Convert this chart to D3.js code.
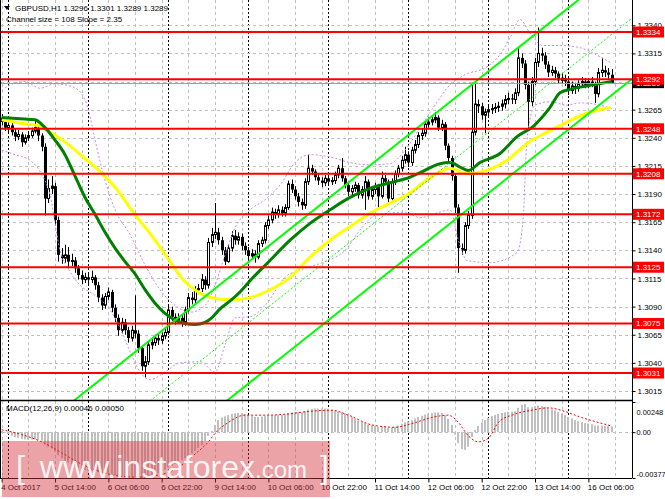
<!DOCTYPE html>
<html><head><meta charset="utf-8">
<script src="https://cdn.jsdelivr.net/npm/d3@7/dist/d3.min.js"></script>
<style>
body{margin:0;background:#fff;}
svg{display:block;font-family:"Liberation Sans",Arial,sans-serif;}
</style></head><body>
<svg id="c" width="665" height="499"></svg>
<script>
// ---------------- DATA ----------------
const symbol = "GBPUSD,H1";
const headerQuote = ["1.3296", "1.3301", "1.3289", "1.3289"];
const channelText = "Channel size = 108 Slope = 2.35";
const macdText = "MACD(12,26,9) 0.00046 0.00050";

const openP = [1.3258,1.3254,1.3249,1.3251,1.3245,1.3241,1.3243,1.3236,1.3240,1.3242,
 1.3246,1.3249,1.3242,1.3232,1.3186,1.3195,1.3197,1.3167,1.3136,1.3133,
 1.3136,1.3130,1.3131,1.3124,1.3118,1.3114,1.3116,1.3114,1.3116,1.3109,
 1.3098,1.3091,1.3099,1.3103,1.3089,1.3080,1.3069,1.3076,1.3069,1.3062,
 1.3069,1.3066,1.3053,1.3037,1.3041,1.3056,1.3058,1.3062,1.3060,1.3064,
 1.3067,1.3087,1.3081,1.3078,1.3080,1.3076,1.3087,1.3098,1.3096,1.3105,
 1.3106,1.3114,1.3109,1.3147,1.3154,1.3156,1.3149,1.3140,1.3130,1.3142,
 1.3153,1.3149,1.3152,1.3144,1.3140,1.3135,1.3137,1.3134,1.3146,1.3149,
 1.3162,1.3167,1.3174,1.3172,1.3176,1.3173,1.3178,1.3199,1.3194,1.3188,
 1.3183,1.3180,1.3201,1.3213,1.3210,1.3205,1.3202,1.3200,1.3204,1.3201,
 1.3202,1.3207,1.3213,1.3204,1.3198,1.3192,1.3195,1.3198,1.3189,1.3194,
 1.3201,1.3188,1.3194,1.3197,1.3188,1.3204,1.3201,1.3186,1.3201,1.3208,
 1.3213,1.3220,1.3225,1.3218,1.3229,1.3234,1.3242,1.3244,1.3252,1.3254,
 1.3256,1.3258,1.3249,1.3252,1.3233,1.3222,1.3206,1.3178,1.3142,1.3140,
 1.3162,1.3171,1.3245,1.3270,1.3268,1.3260,1.3263,1.3265,1.3266,1.3267,
 1.3268,1.3270,1.3274,1.3275,1.3274,1.3280,1.3311,1.3306,1.3287,1.3272,
 1.3290,1.3307,1.3315,1.3313,1.3305,1.3298,1.3300,1.3297,1.3291,1.3293,
 1.3290,1.3282,1.3286,1.3284,1.3288,1.3290,1.3287,1.3290,1.3288,1.3279,
 1.3298,1.3300,1.3298,1.3296];
const highP = [1.3261,1.3257,1.3255,1.3254,1.3248,1.3247,1.3245,1.3243,1.3246,1.3249,
 1.3256,1.3251,1.3244,1.3235,1.3203,1.3206,1.3200,1.3170,1.3142,1.3145,
 1.3143,1.3137,1.3134,1.3127,1.3122,1.3120,1.3119,1.3122,1.3118,1.3112,
 1.3101,1.3102,1.3107,1.3105,1.3092,1.3083,1.3080,1.3079,1.3072,1.3073,
 1.3100,1.3069,1.3055,1.3046,1.3059,1.3062,1.3065,1.3066,1.3067,1.3071,
 1.3092,1.3090,1.3084,1.3084,1.3083,1.3090,1.3102,1.3103,1.3108,1.3110,
 1.3119,1.3117,1.3151,1.3160,1.3182,1.3160,1.3152,1.3143,1.3145,1.3157,
 1.3158,1.3156,1.3155,1.3147,1.3143,1.3141,1.3140,1.3149,1.3152,1.3165,
 1.3171,1.3178,1.3177,1.3180,1.3179,1.3181,1.3202,1.3203,1.3197,1.3191,
 1.3186,1.3204,1.3225,1.3216,1.3212,1.3208,1.3205,1.3207,1.3207,1.3205,
 1.3210,1.3216,1.3222,1.3206,1.3200,1.3198,1.3201,1.3200,1.3197,1.3206,
 1.3203,1.3197,1.3200,1.3199,1.3210,1.3207,1.3203,1.3204,1.3211,1.3216,
 1.3224,1.3232,1.3228,1.3232,1.3238,1.3245,1.3248,1.3255,1.3258,1.3259,
 1.3263,1.3260,1.3256,1.3254,1.3235,1.3224,1.3208,1.3181,1.3146,1.3165,
 1.3175,1.3289,1.3289,1.3274,1.3271,1.3266,1.3269,1.3270,1.3271,1.3272,
 1.3274,1.3278,1.3280,1.3279,1.3284,1.3320,1.3315,1.3309,1.3290,1.3294,
 1.3311,1.3338,1.3320,1.3316,1.3308,1.3304,1.3303,1.3299,1.3297,1.3296,
 1.3293,1.3290,1.3289,1.3291,1.3294,1.3293,1.3293,1.3294,1.3290,1.3302,
 1.3311,1.3304,1.3302,1.3301];
const lowP = [1.3251,1.3246,1.3244,1.3242,1.3237,1.3238,1.3232,1.3234,1.3237,1.3240,
 1.3244,1.3237,1.3228,1.3171,1.3182,1.3190,1.3162,1.3130,1.3128,1.3129,
 1.3124,1.3126,1.3120,1.3114,1.3110,1.3111,1.3110,1.3111,1.3105,1.3094,
 1.3087,1.3088,1.3096,1.3085,1.3076,1.3064,1.3066,1.3065,1.3058,1.3059,
 1.3062,1.3049,1.3033,1.3027,1.3038,1.3052,1.3055,1.3056,1.3057,1.3061,
 1.3065,1.3077,1.3074,1.3075,1.3072,1.3073,1.3084,1.3092,1.3093,1.3101,
 1.3103,1.3105,1.3106,1.3143,1.3150,1.3145,1.3136,1.3127,1.3129,1.3139,
 1.3145,1.3145,1.3140,1.3136,1.3131,1.3132,1.3129,1.3132,1.3143,1.3146,
 1.3159,1.3164,1.3168,1.3169,1.3170,1.3170,1.3176,1.3191,1.3185,1.3179,
 1.3176,1.3177,1.3198,1.3207,1.3202,1.3198,1.3196,1.3197,1.3198,1.3198,
 1.3199,1.3204,1.3201,1.3195,1.3188,1.3189,1.3192,1.3186,1.3186,1.3176,
 1.3185,1.3185,1.3190,1.3176,1.3186,1.3198,1.3181,1.3184,1.3198,1.3205,
 1.3210,1.3217,1.3214,1.3215,1.3226,1.3231,1.3238,1.3241,1.3249,1.3251,
 1.3253,1.3246,1.3246,1.3229,1.3218,1.3202,1.3173,1.3120,1.3136,1.3137,
 1.3159,1.3168,1.3242,1.3262,1.3256,1.3244,1.3259,1.3261,1.3262,1.3263,
 1.3264,1.3266,1.3270,1.3270,1.3270,1.3277,1.3302,1.3283,1.3247,1.3268,
 1.3287,1.3303,1.3308,1.3301,1.3294,1.3295,1.3293,1.3288,1.3288,1.3286,
 1.3278,1.3279,1.3279,1.3281,1.3285,1.3284,1.3284,1.3285,1.3271,1.3276,
 1.3294,1.3294,1.3292,1.3289];
const closeP = [1.3254,1.3249,1.3251,1.3245,1.3241,1.3243,1.3236,1.3240,1.3242,1.3246,
 1.3249,1.3242,1.3232,1.3186,1.3195,1.3197,1.3167,1.3136,1.3133,1.3136,
 1.3130,1.3131,1.3124,1.3118,1.3114,1.3116,1.3114,1.3116,1.3109,1.3098,
 1.3091,1.3099,1.3103,1.3089,1.3080,1.3069,1.3076,1.3069,1.3062,1.3069,
 1.3066,1.3053,1.3037,1.3041,1.3056,1.3058,1.3062,1.3060,1.3064,1.3067,
 1.3087,1.3081,1.3078,1.3080,1.3076,1.3087,1.3098,1.3096,1.3105,1.3106,
 1.3114,1.3109,1.3147,1.3154,1.3156,1.3149,1.3140,1.3130,1.3142,1.3153,
 1.3149,1.3152,1.3144,1.3140,1.3135,1.3137,1.3134,1.3146,1.3149,1.3162,
 1.3167,1.3174,1.3172,1.3176,1.3173,1.3178,1.3199,1.3194,1.3188,1.3183,
 1.3180,1.3201,1.3213,1.3210,1.3205,1.3202,1.3200,1.3204,1.3201,1.3202,
 1.3207,1.3213,1.3204,1.3198,1.3192,1.3195,1.3198,1.3189,1.3194,1.3201,
 1.3188,1.3194,1.3197,1.3188,1.3204,1.3201,1.3186,1.3201,1.3208,1.3213,
 1.3220,1.3225,1.3218,1.3229,1.3234,1.3242,1.3244,1.3252,1.3254,1.3256,
 1.3258,1.3249,1.3252,1.3233,1.3222,1.3206,1.3178,1.3142,1.3140,1.3162,
 1.3171,1.3245,1.3270,1.3268,1.3260,1.3263,1.3265,1.3266,1.3267,1.3268,
 1.3270,1.3274,1.3275,1.3274,1.3280,1.3311,1.3306,1.3287,1.3272,1.3290,
 1.3307,1.3315,1.3313,1.3305,1.3298,1.3300,1.3297,1.3291,1.3293,1.3290,
 1.3282,1.3286,1.3284,1.3288,1.3290,1.3287,1.3290,1.3288,1.3279,1.3298,
 1.3300,1.3298,1.3296,1.3289];

// moving averages (sampled: bar index / value)
const maFastIdx = [0,5.5,10,13,16,19,22,25,28,31,34,37,40,43,46,49,52,55,58,61,63,65.5,68.5,71.5,74.5,80.5,86.5,92.5,98.5,104.5,110.5,116.5,122.5,125.5,131.5,134.5,137.5,140,143.5,149.5,154.6,159.4,164.5,167.5,170.5,173.5,177.4,183];
const maFast = [1.3258,1.3257,1.3256,1.3249,1.3238,1.3225,1.3206,1.3187,1.3172,1.3156,1.3142,1.3130,1.3119,1.3105,1.3093,1.3084,1.3078,1.3075,1.3074,1.3076,1.3080,1.3088,1.3095,1.3103,1.3113,1.3131,1.3149,1.3164,1.3176,1.3187,1.3195,1.3200,1.3205,1.3209,1.3217,1.3218,1.3214,1.3211,1.3218,1.3226,1.3241,1.3250,1.3267,1.3280,1.3283,1.3285,1.3287,1.3290];
const maSlowIdx = [0,5.5,10.6,14.5,19.6,24.4,29.5,34.6,39.4,44.5,49.6,54.4,59.5,64.6,68.5,74.5,80.5,86.5,92.5,98.5,104.5,110.5,116.5,122.5,125.5,131.5,134.5,139.6,145.6,151.6,157.6,163.6,169.6,175.6,182.5];
const maSlow = [1.3256,1.3253,1.3251,1.3245,1.3235,1.3223,1.3210,1.3194,1.3174,1.3155,1.3134,1.3114,1.3102,1.3097,1.3096,1.3098,1.3105,1.3116,1.3134,1.3149,1.3161,1.3173,1.3182,1.3191,1.3198,1.3210,1.3213,1.3208,1.3211,1.3220,1.3235,1.3245,1.3254,1.3262,1.3267];

// Bollinger envelope (sampled)
const bbUpIdx = [0,2.5,7,11.5,16,20.5,23.5,26,28,31,34,38.5,43,47.5,52,56.5,61,64,67,70,74.5,79,83.5,88,92.5,98.5,104.5,110.5,116.5,121,125.5,130,134.5,139,145.6,149.5,152.5,155.5,158.5,162.4,167.5,173.5,179.5,183];
const bbUp = [1.3282,1.3287,1.3290,1.3284,1.3288,1.3286,1.3281,1.3265,1.3238,1.3202,1.3176,1.3154,1.3127,1.3105,1.3091,1.3085,1.3091,1.3109,1.3136,1.3160,1.3176,1.3185,1.3198,1.3218,1.3225,1.3223,1.3218,1.3216,1.3217,1.3229,1.3249,1.3269,1.3287,1.3296,1.3303,1.3314,1.3329,1.3345,1.3333,1.3322,1.3322,1.3320,1.3312,1.3306];
const bbLoIdx = [0,4,8.5,11.5,14.5,17.5,20.5,23.5,28,32.5,35.5,38.5,41.5,44.5,49,53.5,59.5,64,67,70,74.5,79,85,91,97,103,107.5,112,116.5,121,125.5,131.5,134.5,137,139.6,146.5,154.6,156.4,157.6,160,164.5,169.6,173.5,179.5,183];
const bbLo = [1.3229,1.3225,1.3220,1.3210,1.3189,1.3140,1.3121,1.3109,1.3100,1.3087,1.3071,1.3050,1.3032,1.3025,1.3032,1.3040,1.3041,1.3032,1.3056,1.3080,1.3081,1.3091,1.3116,1.3124,1.3130,1.3140,1.3158,1.3171,1.3173,1.3174,1.3169,1.3174,1.3176,1.3149,1.3131,1.3129,1.3138,1.3167,1.3238,1.3269,1.3272,1.3269,1.3271,1.3269,1.3266];

// equidistant channel anchors
const chanIdx = [20, 189];
const chanUpper = [1.30025, 1.34001];
const chanMid = [1.29485, 1.334605];
const chanLower = [1.28945, 1.32920];

// horizontal levels
const levels = [1.3334, 1.3292, 1.3248, 1.3208, 1.3172, 1.3125, 1.3075, 1.3031];
const lastPrice = 1.3289;

// MACD
const macdMain = [0.00010,-0.00005,-0.00015,-0.00030,-0.00040,-0.00045,-0.00055,-0.00060,-0.00062,-0.00060,
 -0.00058,-0.00062,-0.00070,-0.00100,-0.00120,-0.00135,-0.00160,-0.00190,-0.00215,-0.00235,
 -0.00250,-0.00265,-0.00280,-0.00292,-0.00303,-0.00310,-0.00315,-0.00318,-0.00322,-0.00330,
 -0.00340,-0.00342,-0.00342,-0.00348,-0.00355,-0.00362,-0.00365,-0.00368,-0.00372,-0.00372,
 -0.00372,-0.00375,-0.00377,-0.00375,-0.00365,-0.00355,-0.00345,-0.00335,-0.00322,-0.00310,
 -0.00290,-0.00275,-0.00260,-0.00245,-0.00232,-0.00215,-0.00195,-0.00175,-0.00155,-0.00130,
 -0.00105,-0.00075,-0.00030,0.00010,0.00060,0.00100,0.00120,0.00130,0.00140,0.00150,
 0.00155,0.00158,0.00155,0.00148,0.00140,0.00132,0.00125,0.00125,0.00128,0.00132,
 0.00135,0.00138,0.00140,0.00140,0.00142,0.00142,0.00155,0.00162,0.00165,0.00165,
 0.00162,0.00172,0.00185,0.00192,0.00195,0.00195,0.00195,0.00195,0.00193,0.00185,
 0.00175,0.00170,0.00165,0.00155,0.00140,0.00125,0.00110,0.00095,0.00085,0.00075,
 0.00062,0.00055,0.00050,0.00042,0.00045,0.00042,0.00035,0.00038,0.00045,0.00055,
 0.00068,0.00082,0.00088,0.00100,0.00112,0.00125,0.00135,0.00145,0.00152,0.00158,
 0.00162,0.00162,0.00158,0.00140,0.00110,0.00060,-0.00020,-0.00090,-0.00140,-0.00145,
 -0.00120,-0.00040,0.00020,0.00050,0.00080,0.00100,0.00118,0.00132,0.00142,0.00150,
 0.00158,0.00163,0.00167,0.00168,0.00172,0.00200,0.00225,0.00232,0.00205,0.00205,
 0.00212,0.00218,0.00215,0.00208,0.00198,0.00188,0.00178,0.00165,0.00152,0.00140,
 0.00125,0.00112,0.00100,0.00090,0.00082,0.00075,0.00070,0.00065,0.00055,0.00055,
 0.00055,0.00052,0.00050,0.00046];
const sigIdx = [0,6,12,18,23,27,33,40,45,50,54,58,62,64,68,73,80,86,92,99,104,111,118,123,129,134,137,140,143,146,149,153,159,164,169,174,179,183];
const sigVal = [0.0002,-0.0002,-0.0008,-0.0017,-0.0025,-0.0030,-0.0035,-0.0037,-0.0036,-0.0033,-0.0027,-0.0018,-0.0008,-0.0001,0.0008,0.0014,0.0014,0.0015,0.0017,0.0018,0.0014,0.0006,0.0004,0.0007,0.0012,0.0014,0.0008,-0.0003,-0.0008,-0.0005,0.0008,0.0014,0.0018,0.0020,0.0017,0.0012,0.0008,0.0005];

// axes
const priceTicks = [1.3340,1.3315,1.3290,1.3265,1.3240,1.3215,1.3190,1.3165,1.3140,1.3115,1.3090,1.3065,1.3040,1.3015];
const hiddenPriceTicks = [1.3290]; // covered by the level / price labels
const macdTicks = [0.00248, 0, -0.00377];
const macdTickLabels = ["0.00248", "0.00", "-0.00377"];
const timeIdx = [0,16,32,48,64,80,96,112,128,144,160,176];
const timeLabels = ["4 Oct 2017","5 Oct 14:00","6 Oct 06:00","6 Oct 22:00","9 Oct 14:00","10 Oct 06:00","10 Oct 22:00","11 Oct 14:00","12 Oct 06:00","12 Oct 22:00","13 Oct 14:00","16 Oct 06:00"];
const daySepIdx = [2,26,50,74,98,122,146,170];

// ---------------- DRAW ----------------
const svg = d3.select('#c');
const AX = 632; // right axis x
const FF = 'Liberation Sans, Arial, sans-serif';
const fs = 8;
const x = d3.scaleLinear().domain([0,189]).range([1.7,631.7]);
const y = d3.scaleLinear().domain([1.3031,1.3334]).range([373,32]);
const ym = d3.scaleLinear().domain([-0.00377,0.00248]).range([478,402]);

const defs = svg.append('defs');
defs.append('clipPath').attr('id','cm').append('rect').attr('x',1).attr('y',0).attr('width',AX-1).attr('height',400);
defs.append('clipPath').attr('id','cd').append('rect').attr('x',1).attr('y',401).attr('width',AX-1).attr('height',77);

svg.append('rect').attr('width',665).attr('height',499).attr('fill','#fff');

const gMain = svg.append('g').attr('clip-path','url(#cm)');
const gMacd = svg.append('g').attr('clip-path','url(#cd)');

// grid
const vGrid = d3.range(0,190,8);
[gMain,gMacd].forEach((g,k)=>{
  g.selectAll('line.vg').data(vGrid).enter().append('line')
    .attr('x1',d=>Math.round(x(d))+0.5).attr('x2',d=>Math.round(x(d))+0.5)
    .attr('y1',k?401:0).attr('y2',k?478:400)
    .attr('stroke','#c0c0c0').attr('stroke-dasharray','3,3');
  g.selectAll('line.ds').data(daySepIdx).enter().append('line')
    .attr('x1',d=>Math.round(x(d))+0.5).attr('x2',d=>Math.round(x(d))+0.5)
    .attr('y1',k?401:0).attr('y2',k?478:400)
    .attr('stroke','#000').attr('stroke-dasharray','2,2');
});
gMain.selectAll('line.hg').data(priceTicks).enter().append('line')
  .attr('x1',1).attr('x2',AX).attr('y1',d=>Math.round(y(d))+0.5).attr('y2',d=>Math.round(y(d))+0.5)
  .attr('stroke','#c0c0c0').attr('stroke-dasharray','3,3');
gMacd.append('line').attr('x1',1).attr('x2',AX).attr('y1',Math.round(ym(0))+0.5).attr('y2',Math.round(ym(0))+0.5)
  .attr('stroke','#c0c0c0').attr('stroke-dasharray','3,3');

// MACD histogram
gMacd.selectAll('rect.h').data(macdMain).enter().append('rect')
  .attr('x',(d,i)=>Math.round(x(i))-1).attr('width',2)
  .attr('y',d=>Math.min(ym(d),ym(0))).attr('height',d=>Math.max(1,Math.abs(ym(d)-ym(0))))
  .attr('fill','#c0c0c0');
gMacd.append('path').datum(sigIdx.map((d,i)=>[d,sigVal[i]]))
  .attr('d',d3.line().x(d=>x(d[0])).y(d=>ym(d[1])).curve(d3.curveMonotoneX))
  .attr('fill','none').attr('stroke','#ff0000').attr('stroke-width',1).attr('stroke-dasharray','2,2');

// candles
const cg = gMain.append('g');
openP.forEach((o,i)=>{
  const c = closeP[i], cx = Math.round(x(i));
  cg.append('line').attr('x1',cx+0.5).attr('x2',cx+0.5).attr('y1',y(highP[i])).attr('y2',y(lowP[i]))
    .attr('stroke','#000').attr('stroke-width',1);
  const top = y(Math.max(o,c)), bot = y(Math.min(o,c));
  if (c >= o) {
    cg.append('rect').attr('x',cx-0.5).attr('y',top).attr('width',2).attr('height',Math.max(1,bot-top))
      .attr('fill','#fff').attr('stroke','#000').attr('stroke-width',1);
  } else {
    cg.append('rect').attr('x',cx-1).attr('y',top).attr('width',3).attr('height',Math.max(1,bot-top))
      .attr('fill','#000');
  }
});

// Bollinger envelope
const ln = d3.line().x(d=>x(d[0])).y(d=>y(d[1])).curve(d3.curveMonotoneX);
[[bbUpIdx,bbUp],[bbLoIdx,bbLo]].forEach(([ix,v])=>{
  gMain.append('path').datum(ix.map((d,i)=>[d,v[i]])).attr('d',ln)
    .attr('fill','none').attr('stroke','#cc88ee').attr('stroke-width',1).attr('stroke-dasharray','2,2');
});

// moving averages
gMain.append('path').datum(maSlowIdx.map((d,i)=>[d,maSlow[i]])).attr('d',ln)
  .attr('fill','none').attr('stroke','#ffff00').attr('stroke-width',3);
gMain.append('path').datum(maFastIdx.map((d,i)=>[d,maFast[i]])).attr('d',ln)
  .attr('fill','none').attr('stroke','#008000').attr('stroke-width',3);

// channel
const ll = d3.line().x(d=>x(d[0])).y(d=>y(d[1]));
[[chanUpper,false],[chanLower,false],[chanMid,true]].forEach(([v,dot])=>{
  gMain.append('path').datum(chanIdx.map((d,i)=>[d,v[i]])).attr('d',ll)
    .attr('fill','none').attr('stroke','#00ff00').attr('stroke-width',dot?1:2)
    .attr('stroke-dasharray',dot?'2,2':null);
});

// levels
gMain.selectAll('line.lv').data(levels).enter().append('line')
  .attr('x1',1).attr('x2',AX).attr('y1',d=>y(d)).attr('y2',d=>y(d))
  .attr('stroke','#ff0000').attr('stroke-width',2);
gMain.append('line').attr('x1',1).attr('x2',AX).attr('y1',Math.round(y(lastPrice))+0.5).attr('y2',Math.round(y(lastPrice))+0.5)
  .attr('stroke','#a0a0a0').attr('stroke-width',1);

// frame
svg.append('line').attr('x1',0.5).attr('x2',0.5).attr('y1',0).attr('y2',478).attr('stroke','#000');
svg.append('line').attr('x1',0).attr('x2',AX).attr('y1',400.5).attr('y2',400.5).attr('stroke','#000').attr('stroke-width',1.5);

// right price axis
const yAxis = d3.axisRight(y).tickValues(priceTicks)
  .tickFormat(d=>hiddenPriceTicks.includes(d)?'':d3.format('.4f')(d)).tickSize(3).tickPadding(2);
const ga = svg.append('g').attr('transform',`translate(${AX+0.5},0)`).call(yAxis);
ga.select('.domain').attr('d','M0,0V478');
ga.selectAll('text').attr('font-size',fs).attr('font-family',FF).attr('fill','#000');

// macd axis
const mAxis = d3.axisRight(ym).tickValues(macdTicks).tickFormat((d,i)=>macdTickLabels[i]).tickSize(3).tickPadding(1);
const gm = svg.append('g').attr('transform',`translate(${AX+0.5},0)`).call(mAxis);
gm.select('.domain').remove();
gm.selectAll('.tick').each(function(d,i){
  const t = d3.select(this).select('text');
  t.attr('font-size',7.4).attr('font-family',FF);
  if(i===0) t.attr('dy','1.75em');
  if(i===2) t.attr('dy','-0.15em');
});

// bottom time axis
const xAxis = d3.axisBottom(x).tickValues(timeIdx).tickFormat((d,i)=>timeLabels[i]).tickSize(4).tickPadding(2);
const gx = svg.append('g').attr('transform','translate(0,478.5)').call(xAxis);
gx.select('.domain').attr('d',`M0,0H${AX}`);
gx.selectAll('text').attr('font-size',fs).attr('text-anchor','start').attr('dx','-1')
  .attr('font-family',FF);

// current price label (black) then level labels (red)
const lab = svg.append('g').attr('font-family',FF);
lab.append('rect').attr('x',AX+1).attr('y',y(lastPrice)-5.5).attr('width',31).attr('height',11).attr('fill','#000');
lab.append('text').attr('x',AX+4).attr('y',y(lastPrice)+3).attr('fill','#fff').attr('font-size',fs).text(d3.format('.4f')(lastPrice));
levels.forEach(v=>{
  lab.append('rect').attr('x',AX+1).attr('y',y(v)-5.5).attr('width',31).attr('height',11).attr('fill','#ff0000');
  lab.append('text').attr('x',AX+4).attr('y',y(v)+3).attr('fill','#fff').attr('font-size',fs).text(d3.format('.4f')(v));
});

// header texts
svg.append('path').attr('d','M4,6 L10,6 L7,10 Z').attr('fill','#000');
svg.append('text').attr('x',15).attr('y',11).attr('font-size',fs).text(symbol + "  " + headerQuote.join(" "));
svg.append('text').attr('x',6).attr('y',22).attr('font-size',fs).text(channelText);
svg.append('text').attr('x',6).attr('y',411).attr('font-size',fs).text(macdText);

// watermark
svg.append('rect').attr('x',2).attr('y',441).attr('width',328).attr('height',56).attr('fill','#d2323c').attr('opacity',0.45);
const wm = svg.append('text').attr('x',16).attr('y',478).attr('fill','#fff').attr('fill-opacity',0.9)
  .attr('font-family',FF);
wm.append('tspan').attr('font-size',32).text('[ ');
wm.append('tspan').attr('font-size',32).attr('dx',6).text('www.instaforex');
wm.append('tspan').attr('font-size',24).text('.com');
wm.append('tspan').attr('font-size',32).attr('dx',4).text(' ]');
</script>
</body></html>
